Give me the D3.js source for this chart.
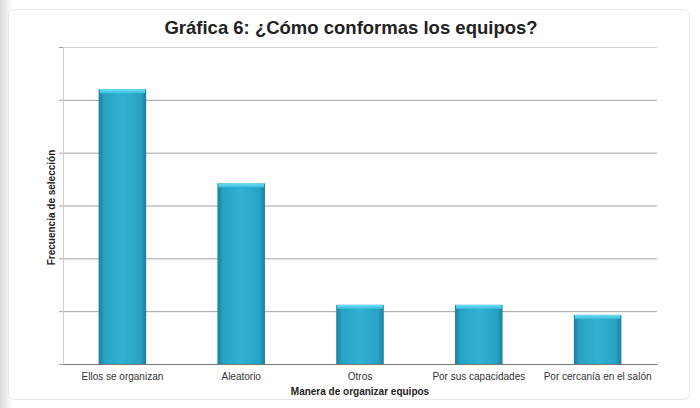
<!DOCTYPE html>
<html><head><meta charset="utf-8">
<script src="https://cdn.jsdelivr.net/npm/d3@7"></script>
<style>body{margin:0;background:#fff;font-family:"Liberation Sans",Arial,sans-serif}</style>
</head><body>
<svg id="c" width="700" height="408"></svg>
<script>
const categories = ["Ellos se organizan","Aleatorio","Otros","Por sus capacidades","Por cercanía en el salón"];
const values = [26, 17.1, 5.6, 5.6, 4.65];
const yTicks = [0,5,10,15,20,25,30];
const title = "Gráfica 6: ¿Cómo conformas los equipos?";
const xTitle = "Manera de organizar equipos";
const yTitle = "Frecuencia de selección";

const svg = d3.select("#c");
const m = {l:63, r:43, t:47, b:44};
const W = 700, H = 408;

const defs = svg.append("defs");
const lg = defs.append("linearGradient").attr("id","shadowL").attr("x1",0).attr("x2",1);
lg.append("stop").attr("offset",0).attr("stop-color","#d8d8d8");
lg.append("stop").attr("offset",1).attr("stop-color","#ffffff");
const bg = defs.append("linearGradient").attr("id","bar").attr("x1",0).attr("x2",1);
[[0,"#1b7f9c"],[0.12,"#27a2c4"],[0.5,"#32b1d3"],[0.88,"#27a2c4"],[1,"#1b7f9c"]].forEach(s=>bg.append("stop").attr("offset",s[0]).attr("stop-color",s[1]));
const cg = defs.append("linearGradient").attr("id","cap").attr("x1",0).attr("x2",0).attr("y1",0).attr("y2",1);
cg.append("stop").attr("offset",0).attr("stop-color","#6fdcf2");
cg.append("stop").attr("offset",1).attr("stop-color","#38bfe0");

svg.append("rect").attr("x",0).attr("y",0).attr("width",12).attr("height",H).attr("fill","url(#shadowL)");
svg.append("rect").attr("x",8.5).attr("y",9.5).attr("width",681).attr("height",390).attr("rx",6)
  .attr("fill","#fff").attr("stroke","#e6e6e6");

const x = d3.scaleBand().domain(categories).range([m.l, W-m.r]).paddingInner(0.6).paddingOuter(0.3);
const y = d3.scaleLinear().domain([0,30]).range([H-m.b, m.t]);

// gridlines
svg.append("g").attr("transform",`translate(${m.l},0)`)
  .call(d3.axisLeft(y).tickValues(yTicks).tickSize(-(W-m.l-m.r)).tickFormat(""))
  .call(g=>g.select(".domain").remove())
  .call(g=>g.selectAll(".tick line").attr("stroke","#a0a0a0").attr("stroke-width",1))
  .call(g=>g.selectAll(".tick").filter(d=>d===30).select("line").attr("stroke","#d0d0d0"))
  .call(g=>g.selectAll(".tick").filter(d=>d===0).remove());
// tick stubs
svg.append("g").attr("transform",`translate(${m.l},0)`)
  .call(d3.axisLeft(y).tickValues(yTicks).tickSize(4).tickFormat(""))
  .call(g=>g.select(".domain").attr("stroke","#d0d0d0"))
  .call(g=>g.selectAll(".tick line").attr("stroke","#a0a0a0"));

// bars
const bars = svg.append("g");
bars.selectAll("rect.b").data(values).join("rect").attr("class","b")
  .attr("x",(d,i)=>x(categories[i])).attr("width",x.bandwidth())
  .attr("y",d=>y(d)).attr("height",d=>y(0)-y(d)).attr("fill","url(#bar)");
bars.selectAll("rect.c").data(values).join("rect").attr("class","c")
  .attr("x",(d,i)=>x(categories[i])+1).attr("width",x.bandwidth()-2)
  .attr("y",d=>y(d)).attr("height",4).attr("fill","url(#cap)");

// x axis
svg.append("g").attr("transform",`translate(0,${H-m.b})`)
  .call(d3.axisBottom(x).tickSize(0).tickPadding(9))
  .call(g=>g.select(".domain").attr("stroke","#777"))
  .call(g=>g.selectAll("text").attr("font-size",10).attr("fill","#333").attr("font-family","Liberation Sans, Arial, sans-serif"));

svg.append("text").attr("x",W/2+1).attr("y",34).attr("text-anchor","middle")
  .attr("font-size",18.5).attr("font-weight","bold").attr("fill","#222").text(title);
svg.append("text").attr("x",(m.l+W-m.r)/2).attr("y",395).attr("text-anchor","middle")
  .attr("font-size",10).attr("font-weight","bold").attr("fill","#222").text(xTitle);
svg.append("text").attr("transform",`translate(55,${(m.t+H-m.b)/2+2}) rotate(-90)`).attr("text-anchor","middle")
  .attr("font-size",10).attr("font-weight","bold").attr("fill","#222").text(yTitle);
</script>
</body></html>
